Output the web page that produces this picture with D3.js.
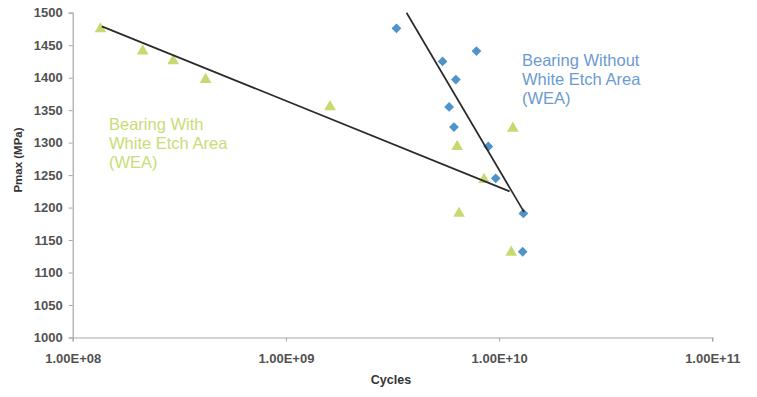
<!DOCTYPE html>
<html><head><meta charset="utf-8">
<script src="https://cdn.jsdelivr.net/npm/d3@7/dist/d3.min.js"></script>
<style>body{margin:0;background:#fff;} svg{display:block;}</style>
</head><body>
<svg id="c" width="757" height="397"></svg>
<script>
// Data
const withWEA_cycles = [1.35e8, 2.13e8, 2.96e8, 4.2e8, 1.61e9, 6.36e9, 1.16e10, 8.5e9, 6.49e9, 1.14e10];
const withWEA_pmax   = [1475, 1441, 1426, 1397, 1355, 1294, 1322, 1243, 1191, 1131];
const withoutWEA_cycles = [3.3e9, 7.83e9, 5.43e9, 6.27e9, 5.83e9, 6.14e9, 8.9e9, 9.64e9, 1.30e10, 1.29e10];
const withoutWEA_pmax   = [1476, 1441, 1425, 1397, 1355, 1324, 1294, 1245, 1191, 1132];
const trendWith_cycles = [1.37e8, 1.12e10];
const trendWith_pmax   = [1479, 1225];
const trendWithout_cycles = [3.68e9, 1.31e10];
const trendWithout_pmax   = [1500, 1193];
const xTicks = [1e8, 1e9, 1e10, 1e11];
const xTickLabels = ["1.00E+08", "1.00E+09", "1.00E+10", "1.00E+11"];
const yTicks = [1000, 1050, 1100, 1150, 1200, 1250, 1300, 1350, 1400, 1450, 1500];
const labelWith = ["Bearing With", "White Etch Area", "(WEA)"];
const labelWithout = ["Bearing Without", "White Etch Area", "(WEA)"];

const svg = d3.select("#c");
const font = "'Liberation Sans', Arial, sans-serif";
const x = d3.scaleLog().domain([1e8, 1e11]).range([72.7, 712.3]);
const y = d3.scaleLinear().domain([1000, 1500]).range([337.5, 12.7]);
const green = "#c6da72", blue = "#4f93c9", axisCol = "#a8a8a8";

// axes
const yAx = svg.append("g").attr("transform", `translate(${x(1e8)},0)`)
  .call(d3.axisLeft(y).tickValues(yTicks).tickFormat(d3.format("d")).tickSize(4).tickPadding(6));
const xAx = svg.append("g").attr("transform", `translate(0,${y(1000)})`)
  .call(d3.axisBottom(x).tickValues(xTicks).tickFormat((d,i)=>xTickLabels[i]).tickSize(4).tickPadding(12));
[yAx, xAx].forEach(g => {
  g.select(".domain").attr("stroke", axisCol).attr("stroke-width", 1.2);
  g.selectAll(".tick line").attr("stroke", axisCol);
  g.selectAll(".tick text").attr("fill", "#333").attr("font-family", font)
    .attr("font-size", 13).attr("font-weight", "bold").style("opacity", 0.85);
});

// axis titles
svg.append("text").attr("x", 391).attr("y", 384).attr("text-anchor", "middle")
  .attr("font-family", font).attr("font-size", 12.5).attr("font-weight", "bold").attr("fill", "#333").text("Cycles");
svg.append("text").attr("transform", "translate(22,160) rotate(-90)").attr("text-anchor", "middle")
  .attr("font-family", font).attr("font-size", 11.5).attr("font-weight", "bold").attr("fill", "#333").text("Pmax (MPa)");

// points
const tri = d3.symbol().type(d3.symbolTriangle).size(60);
const dia = d3.symbol().type(d3.symbolSquare).size(48);
svg.append("g").selectAll("path").data(withWEA_cycles).join("path")
  .attr("d", tri).attr("fill", green)
  .attr("transform", (d,i) => `translate(${x(d)},${y(withWEA_pmax[i])})`);
svg.append("g").selectAll("path").data(withoutWEA_cycles).join("path")
  .attr("d", dia).attr("fill", blue)
  .attr("transform", (d,i) => `translate(${x(d)},${y(withoutWEA_pmax[i])}) rotate(45)`);

// trend lines
const line = d3.line().x(d => x(d[0])).y(d => y(d[1]));
svg.append("path").datum(trendWith_cycles.map((c,i)=>[c, trendWith_pmax[i]]))
  .attr("d", line).attr("stroke", "#2a2a2a").attr("stroke-width", 1.7).attr("fill", "none");
svg.append("path").datum(trendWithout_cycles.map((c,i)=>[c, trendWithout_pmax[i]]))
  .attr("d", line).attr("stroke", "#2a2a2a").attr("stroke-width", 1.7).attr("fill", "none");

// annotations
svg.append("text").attr("font-family", font).attr("font-size", 16.5).attr("fill", "#c8dc78")
  .selectAll("tspan").data(labelWith).join("tspan")
  .attr("x", 109).attr("y", (d,i) => 130 + i*19).text(d => d);
svg.append("text").attr("font-family", font).attr("font-size", 16.5).attr("fill", "#6b9bd0")
  .selectAll("tspan").data(labelWithout).join("tspan")
  .attr("x", 522).attr("y", (d,i) => 66 + i*19).text(d => d);
</script>
</body></html>
